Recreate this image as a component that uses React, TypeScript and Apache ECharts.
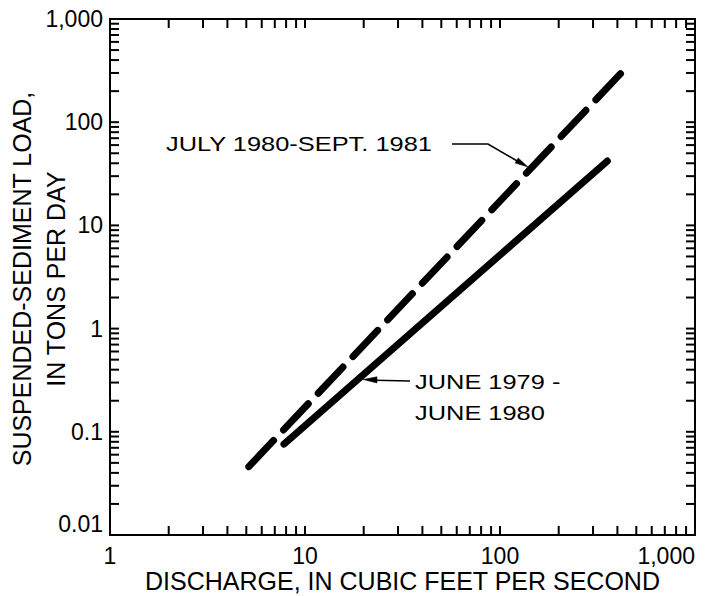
import React, { useEffect, useRef } from "react";
import * as echarts from "echarts";

// ---- data ----
const xAxisTitle = "DISCHARGE, IN CUBIC FEET PER SECOND";
const yAxisTitle = "SUSPENDED-SEDIMENT LOAD,\nIN TONS PER DAY";
const X_MIN = 1;
const X_MAX = 1000;
const Y_MIN = 0.01;
const Y_MAX = 1000;
const xTickLabels: Record<string, string> = { "1": "1", "10": "10", "100": "100", "1000": "1,000" };
const yTickLabels: Record<string, string> = {
  "0.01": "0.01",
  "0.1": "0.1",
  "1": "1",
  "10": "10",
  "100": "100",
  "1000": "1,000",
};
const dashedName = "JULY 1980-SEPT. 1981";
const dashedDischarge = [5.15, 415];
const dashedLoad = [0.046, 295];
const solidName1 = "JUNE 1979 -";
const solidName2 = "JUNE 1980";
const solidDischarge = [7.8, 355];
const solidLoad = [0.076, 42];
const minorMultipliers = [1, 2, 3, 4, 5, 6, 7, 8, 9];
const xDecades = [1, 10, 100];
const yDecades = [0.01, 0.1, 1, 10, 100];

const FONT = "'Liberation Sans', Arial, Helvetica, sans-serif";
const TICK = 9;

export default function App() {
  const ref = useRef<HTMLDivElement>(null);
  useEffect(() => {
    if (!ref.current) return;
    const chart = echarts.init(ref.current, undefined, { renderer: "svg" });

    const xTicks: number[] = [];
    xDecades.forEach((d) => minorMultipliers.forEach((m) => { if (d * m > X_MIN) xTicks.push(+(d * m).toPrecision(6)); }));
    const yTicks: number[] = [];
    yDecades.forEach((d) => minorMultipliers.forEach((m) => { if (d * m > Y_MIN) yTicks.push(+(d * m).toPrecision(6)); }));
    const tickData = [
      ...xTicks.map((v) => [v, Y_MIN, 0]),
      ...yTicks.map((v) => [X_MIN, v, 1]),
    ];

    const lineStyle = { stroke: "#000", lineWidth: 2 };
    const annotFont = `21px ${FONT}`;
    const annotScale = 1.21;

    chart.setOption({
      animation: false,
      backgroundColor: "#fff",
      grid: {
        left: 110,
        right: 11,
        top: 19,
        bottom: 61,
        containLabel: false,
        outerBoundsMode: "none",
        show: true,
        borderColor: "#000",
        borderWidth: 2,
        backgroundColor: "transparent",
      },
      xAxis: {
        type: "log",
        logBase: 10,
        min: X_MIN,
        max: X_MAX,
        axisLine: { show: false },
        axisTick: { show: false },
        splitLine: { show: false },
        minorTick: { show: false },
        axisLabel: {
          show: true,
          showMinLabel: true,
          showMaxLabel: true,
          alignMaxLabel: "right",
          margin: 9,
          color: "#000",
          fontSize: 23,
          fontFamily: FONT,
          formatter: (v: number) => xTickLabels[String(v)] ?? String(v),
        },
      },
      yAxis: {
        type: "log",
        logBase: 10,
        min: Y_MIN,
        max: Y_MAX,
        axisLine: { show: false },
        axisTick: { show: false },
        splitLine: { show: false },
        minorTick: { show: false },
        axisLabel: {
          show: true,
          showMinLabel: true,
          showMaxLabel: true,
          verticalAlignMinLabel: "bottom",
          margin: 7,
          color: "#000",
          fontSize: 23,
          fontFamily: FONT,
          formatter: (v: number) => yTickLabels[String(v)] ?? String(v),
        },
      },
      series: [
        {
          name: "ticks",
          type: "custom",
          silent: true,
          clip: false,
          encode: { x: 0, y: 1 },
          data: tickData,
          renderItem: (_params: any, api: any) => {
            const kind = api.value(2);
            if (kind === 0) {
              const v = api.value(0);
              const b = api.coord([v, Y_MIN]);
              const t = api.coord([v, Y_MAX]);
              return {
                type: "group",
                children: [
                  { type: "line", shape: { x1: b[0], y1: b[1], x2: b[0], y2: b[1] - TICK }, style: lineStyle },
                  { type: "line", shape: { x1: t[0], y1: t[1], x2: t[0], y2: t[1] + TICK }, style: lineStyle },
                ],
              };
            }
            const v = api.value(1);
            const l = api.coord([X_MIN, v]);
            const r = api.coord([X_MAX, v]);
            return {
              type: "group",
              children: [
                { type: "line", shape: { x1: l[0], y1: l[1], x2: l[0] + TICK, y2: l[1] }, style: lineStyle },
                { type: "line", shape: { x1: r[0], y1: r[1], x2: r[0] - TICK, y2: r[1] }, style: lineStyle },
              ],
            };
          },
        },
        {
          name: dashedName,
          type: "line",
          symbol: "none",
          showSymbol: false,
          silent: true,
          data: dashedDischarge.map((x, i) => [x, dashedLoad[i]]),
          lineStyle: { color: "#000", width: 7, type: [36, 14.5], cap: "round" },
        },
        {
          name: solidName1 + " " + solidName2,
          type: "line",
          symbol: "none",
          showSymbol: false,
          silent: true,
          data: solidDischarge.map((x, i) => [x, solidLoad[i]]),
          lineStyle: { color: "#000", width: 7, type: "solid", cap: "round" },
        },
      ],
      graphic: [
        {
          type: "text",
          x: 402.5,
          y: 581,
          style: {
            text: xAxisTitle,
            fill: "#000",
            font: `25px ${FONT}`,
            align: "center",
            verticalAlign: "middle",
          },
        },
        {
          type: "text",
          x: 39,
          y: 279,
          rotation: Math.PI / 2,
          style: {
            text: yAxisTitle,
            fill: "#000",
            font: `25px ${FONT}`,
            lineHeight: 34,
            align: "center",
            verticalAlign: "middle",
          },
        },
        {
          type: "text",
          x: 166,
          y: 144,
          scaleX: annotScale,
          style: {
            text: dashedName,
            fill: "#000",
            font: annotFont,
            align: "left",
            verticalAlign: "middle",
          },
        },
        {
          type: "polyline",
          shape: { points: [[452, 144], [488, 144], [518, 161.5]] },
          style: { stroke: "#000", lineWidth: 1.6, fill: null },
        },
        {
          type: "polygon",
          shape: { points: [[528, 167], [515.2, 163.1], [518.2, 157.9]] },
          style: { fill: "#000", stroke: "#000", lineWidth: 0.5 },
        },
        {
          type: "line",
          shape: { x1: 410, y1: 381, x2: 375, y2: 380.2 },
          style: { stroke: "#000", lineWidth: 1.6 },
        },
        {
          type: "polygon",
          shape: { points: [[363, 379.5], [377, 376.8], [377, 383]] },
          style: { fill: "#000", stroke: "#000", lineWidth: 0.5 },
        },
        {
          type: "text",
          x: 415,
          y: 382,
          scaleX: annotScale,
          style: {
            text: solidName1,
            fill: "#000",
            font: annotFont,
            align: "left",
            verticalAlign: "middle",
          },
        },
        {
          type: "text",
          x: 415,
          y: 413,
          scaleX: annotScale,
          style: {
            text: solidName2,
            fill: "#000",
            font: annotFont,
            align: "left",
            verticalAlign: "middle",
          },
        },
      ],
    });
    return () => chart.dispose();
  }, []);

  return (
    <div
      ref={ref}
      style={{ position: "fixed", left: 0, top: 0, width: 706, height: 596, background: "#fff" }}
    />
  );
}
